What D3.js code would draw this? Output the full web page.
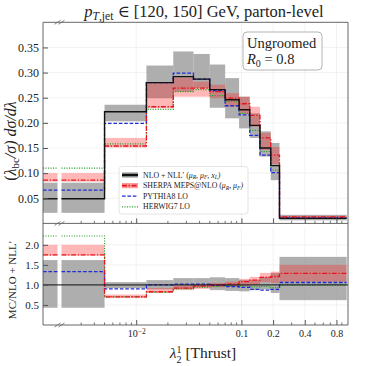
<!DOCTYPE html>
<html>
<head>
<meta charset="utf-8">
<script src="https://d3js.org/d3.v7.min.js"></script>
<style>
body { margin: 0; background: #fff; }
text { font-family: "Liberation Serif", "DejaVu Serif", serif; fill: #222; }
</style>
</head>
<body>
<svg width="366" height="366"></svg>
<script>
// bin edges in lambda_2^1 (first bin starts at 0 and sits behind the axis break)
var edges = [0, 0.005, 0.0125, 0.0225, 0.035, 0.05, 0.07, 0.095, 0.12, 0.15, 0.19, 0.23, 1.0];

// top panel, (lambda/sigma) dsigma/dlambda
var nll     = [0.049, 0.222, 0.280, 0.292, 0.287, 0.266, 0.246, 0.226, 0.195, 0.150, 0.115, 0.010];
var nllLo   = [0.021, 0.203, 0.249, 0.262, 0.269, 0.230, 0.209, 0.189, 0.170, 0.133, 0.086, 0.006];
var nllHi   = [0.081, 0.236, 0.314, 0.342, 0.337, 0.316, 0.289, 0.252, 0.219, 0.183, 0.160, 0.017];
var sherpa   = [0.086, 0.154, 0.232, 0.269, 0.269, 0.262, 0.249, 0.238, 0.215, 0.170, 0.136, 0.013];
var sherpaLo = [0.083, 0.151, 0.229, 0.252, 0.252, 0.249, 0.232, 0.218, 0.192, 0.146, 0.118, 0.011];
var sherpaHi = [0.100, 0.170, 0.280, 0.290, 0.282, 0.276, 0.259, 0.252, 0.232, 0.180, 0.152, 0.015];
var pythia  = [0.066, 0.199, 0.280, 0.299, 0.287, 0.264, 0.234, 0.216, 0.175, 0.136, 0.101, 0.011];
var herwig  = [0.110, 0.158, 0.227, 0.262, 0.266, 0.254, 0.242, 0.219, 0.185, 0.143, 0.106, 0.010];

// bottom panel, MC / NLO+NLL'
var rNllLo    = [0.43, 0.92, 0.89, 0.90, 0.94, 0.87, 0.85, 0.84, 0.87, 0.89, 0.80, 0.62];
var rNllHi    = [1.62, 1.07, 1.12, 1.17, 1.17, 1.19, 1.17, 1.12, 1.12, 1.20, 1.30, 1.70];
var rSherpa   = [1.75, 0.70, 0.83, 0.92, 0.97, 1.00, 1.02, 1.08, 1.12, 1.19, 1.21, 1.29];
var rSherpaLo = [1.73, 0.67, 0.80, 0.87, 0.90, 0.94, 0.95, 0.98, 1.00, 1.07, 1.05, 1.08];
var rSherpaHi = [2.00, 0.76, 0.92, 0.99, 1.02, 1.05, 1.08, 1.15, 1.20, 1.30, 1.33, 1.50];
var rPythia   = [1.33, 0.90, 1.00, 1.02, 1.02, 0.99, 0.96, 0.94, 0.89, 0.87, 0.89, 1.06];
var rHerwig   = [2.22, 0.71, 0.82, 0.90, 0.94, 0.96, 0.98, 0.97, 0.95, 0.96, 0.93, 1.00];

var xMajor = [0.01, 0.1, 0.2, 0.4, 0.8];
var xMinor = [0.003, 0.004, 0.005, 0.006, 0.007, 0.008, 0.009,
              0.02, 0.03, 0.04, 0.05, 0.06, 0.07, 0.08, 0.09,
              0.3, 0.5, 0.6, 0.7, 0.9];
var yTopTicks = [0.05, 0.10, 0.15, 0.20, 0.25, 0.30, 0.35];
var yBotTicks = [0.5, 1.0, 1.5, 2.0];

var svg = d3.select("svg");
var L = 43, R = 348;
var x = d3.scaleLog().domain([0.0013, 1.03]).range([L, R]);
var yT = d3.scaleLinear().domain([0, 0.4]).range([223.4, 22.3]);
var yB = d3.scaleLinear().domain([0, 2.42]).range([325, 228]);
var xMin = x.domain()[0], xMax = x.domain()[1];
var brk = 59.5;            // pixel of the axis break
var bL = x.invert(brk - 2), bR = x.invert(brk + 2);

var RED = "#e8141c", BLUE = "#1f2bd6", GREEN = "#2ca02c";

function cl(v) { return Math.min(Math.max(v, xMin), xMax); }

// grid
function grid(y, ticks, y0, y1) {
  svg.append("g").selectAll("line").data(ticks).enter().append("line")
    .attr("x1", L).attr("x2", R).attr("y1", d => y(d)).attr("y2", d => y(d))
    .attr("stroke", "#ececec").attr("stroke-width", 0.7);
  svg.append("g").selectAll("line").data(xMajor).enter().append("line")
    .attr("x1", d => x(d)).attr("x2", d => x(d)).attr("y1", y0).attr("y2", y1)
    .attr("stroke", "#ececec").attr("stroke-width", 0.7);
}
grid(yT, yTopTicks, 22.3, 223.4);
grid(yB, yBotTicks, 228, 325);

// bands: one rect per bin, first bin split at the break
function band(y, lo, hi, fill, op) {
  var rects = [];
  lo.forEach(function(v, i) {
    if (i === 0) {
      rects.push({a: xMin, b: bL, lo: v, hi: hi[i]});
      rects.push({a: bR, b: edges[1], lo: v, hi: hi[i]});
    } else {
      rects.push({a: edges[i], b: cl(edges[i + 1]), lo: v, hi: hi[i]});
    }
  });
  svg.append("g").selectAll("rect").data(rects).enter().append("rect")
    .attr("x", d => x(d.a)).attr("width", d => x(d.b) - x(d.a))
    .attr("y", d => y(d.hi)).attr("height", d => y(d.lo) - y(d.hi))
    .attr("fill", fill).attr("fill-opacity", op);
}

// step line, first bin split at the break
function step(y, vals, color, w, dash) {
  var g = svg.append("g").attr("fill", "none").attr("stroke", color)
    .attr("stroke-width", w).attr("stroke-dasharray", dash);
  var pts = [[bR, vals[0]]];
  for (var i = 1; i < vals.length; i++) pts.push([edges[i], vals[i]]);
  pts.push([cl(edges[edges.length - 1]), vals[vals.length - 1]]);
  var line = d3.line().x(d => x(d[0])).y(d => y(d[1])).curve(d3.curveStepAfter);
  g.append("path").attr("d", line([[xMin, vals[0]], [bL, vals[0]]]));
  g.append("path").attr("d", line(pts));
}

var dashSherpa = "5,1.6,1.4,1.6", dashPythia = "3.6,1.8", dashHerwig = "1.1,1.4";

band(yT, nllLo, nllHi, "#9a9a9a", 0.8);
band(yT, sherpaLo, sherpaHi, "#ff2020", 0.32);
step(yT, herwig, GREEN, 1.2, dashHerwig);
step(yT, pythia, BLUE, 1.3, dashPythia);
step(yT, sherpa, RED, 1.3, dashSherpa);
step(yT, nll, "#111", 1.4, null);

band(yB, rNllLo, rNllHi, "#9a9a9a", 0.8);
band(yB, rSherpaLo, rSherpaHi, "#ff2020", 0.32);
step(yB, rHerwig, GREEN, 1.2, dashHerwig);
step(yB, rPythia, BLUE, 1.3, dashPythia);
step(yB, rSherpa, RED, 1.3, dashSherpa);
svg.append("line").attr("x1", L).attr("x2", R).attr("y1", yB(1)).attr("y2", yB(1))
  .attr("stroke", "#111").attr("stroke-width", 1);

// frames
var fr = svg.append("g").attr("stroke", "#555").attr("stroke-width", 0.9).attr("fill", "none");
fr.append("path").attr("d", "M" + L + "," + yB(0) + "V" + yT(0.4) + "H" + R + "V" + yB(0) + "H" + L);
fr.append("line").attr("x1", L).attr("x2", R).attr("y1", yT(0)).attr("y2", yT(0));

// axes, ticks point inward
function yAxis(y, ticks, fs) {
  var g = svg.append("g").attr("transform", "translate(" + L + ",0)")
    .call(d3.axisLeft(y).tickValues(ticks).tickSize(-5).tickPadding(4).tickFormat(d3.format(".2~f")));
  g.select(".domain").remove();
  g.selectAll("text").style("font-family", null).attr("font-size", fs).text(d => ticks.length > 4 ? d.toFixed(2) : d.toFixed(1));
  g.selectAll("line").attr("stroke", "#555");
}
yAxis(yT, yTopTicks, 12);
yAxis(yB, yBotTicks, 11);

function xAxis(yPix, labels) {
  var g = svg.append("g").attr("transform", "translate(0," + yPix + ")")
    .call(d3.axisBottom(x).tickValues(xMajor).tickSize(-5).tickPadding(5).tickFormat(d => d));
  g.select(".domain").remove();
  g.selectAll("line").attr("stroke", "#555");
  g.selectAll("text").style("font-family", null).attr("font-size", 10).attr("fill", "#333");
  if (!labels) g.selectAll("text").remove();
  else g.selectAll("text").filter(d => d === 0.01).text("10").append("tspan")
      .attr("dy", "-0.45em").attr("font-size", 7.5).text("\u22122");
  svg.append("g").selectAll("line").data(xMinor).enter().append("line")
    .attr("x1", d => x(d)).attr("x2", d => x(d)).attr("y1", yPix).attr("y2", yPix - 2.6)
    .attr("stroke", "#555").attr("stroke-width", 0.8);
}
xAxis(yT(0), false);
xAxis(yB(0), true);

// break marks
[yT(0.4), yT(0), yB(0)].forEach(function(yy) {
  [-2, 2].forEach(function(d) {
    svg.append("line").attr("x1", brk + d - 3).attr("x2", brk + d + 3)
      .attr("y1", yy + 2).attr("y2", yy - 2).attr("stroke", "#666").attr("stroke-width", 0.8);
  });
});

// legend
var lg = svg.append("g");
lg.append("rect").attr("x", 119).attr("y", 166.5).attr("width", 129).attr("height", 47.5)
  .attr("rx", 3).attr("fill", "#fff").attr("fill-opacity", 0.85).attr("stroke", "#ddd").attr("stroke-width", 0.8);
var items = [
  {c: "#111", w: 2.2, dash: null, band: "#9a9a9a", t: ["NLO + NLL\u2032 (", "\u03bc", "R", ", \u03bc", "F", ", x", "L", ")"]},
  {c: RED, w: 1.6, dash: dashSherpa, band: "#ff9a9a", t: ["SHERPA MEPS@NLO (", "\u03bc", "R", ", \u03bc", "F", ")"]},
  {c: BLUE, w: 1.3, dash: dashPythia, band: null, t: ["PYTHIA8 LO"]},
  {c: GREEN, w: 1.2, dash: dashHerwig, band: null, t: ["HERWIG7 LO"]}
];
items.forEach(function(it, i) {
  var yy = 175 + i * 10.6;
  if (it.band) lg.append("rect").attr("x", 122).attr("y", yy - 2.6).attr("width", 16).attr("height", 5.2).attr("fill", it.band);
  lg.append("line").attr("x1", 122).attr("x2", 138).attr("y1", yy).attr("y2", yy)
    .attr("stroke", it.c).attr("stroke-width", it.w).attr("stroke-dasharray", it.dash);
  var t = lg.append("text").attr("x", 143).attr("y", yy + 2.5).attr("font-size", 7.8);
  it.t.forEach(function(s, k) {
    var sp = t.append("tspan").text(s);
    if (k > 0 && k % 2 === 0) sp.attr("font-size", 5.6).attr("dy", 1.4).attr("font-style", "italic");
    else if (k > 0) sp.attr("dy", k > 1 ? -1.4 : 0).attr("font-style", "italic");
  });
});

// Ungroomed box
svg.append("rect").attr("x", 243).attr("y", 32).attr("width", 79).attr("height", 38).attr("rx", 4)
  .attr("fill", "#fff").attr("stroke", "#aaa").attr("stroke-width", 0.9);
svg.append("text").attr("x", 247).attr("y", 48).attr("font-size", 14.5).text("Ungroomed");
var r0 = svg.append("text").attr("x", 247).attr("y", 64).attr("font-size", 14.5);
r0.append("tspan").attr("font-style", "italic").text("R");
r0.append("tspan").attr("font-size", 10).attr("dy", 3).text("0");
r0.append("tspan").attr("dy", -3).text(" = 0.8");

// title
var tt = svg.append("text").attr("x", 204).attr("y", 17).attr("text-anchor", "middle").attr("font-size", 16.5);
tt.append("tspan").attr("font-style", "italic").text("p");
tt.append("tspan").attr("font-size", 11.5).attr("dy", 3).attr("font-style", "italic").text("T");
tt.append("tspan").attr("font-size", 11.5).text(",jet");
tt.append("tspan").attr("dy", -3).text(" \u2208 [120, 150] GeV, parton-level");

// x label
var xl = svg.append("text").attr("x", 203).attr("y", 358).attr("text-anchor", "middle").attr("font-size", 15.5);
xl.append("tspan").attr("font-style", "italic").text("\u03bb");
xl.append("tspan").attr("font-size", 10).attr("dy", -5.5).text("1");
xl.append("tspan").attr("font-size", 10).attr("dx", -5).attr("dy", 10).text("2");
xl.append("tspan").attr("dy", -4.5).text(" [Thrust]");

// y labels
var yl = svg.append("text").attr("transform", "translate(16,141) rotate(-90)")
  .attr("text-anchor", "middle").attr("font-size", 16);
yl.append("tspan").text("(");
yl.append("tspan").attr("font-style", "italic").text("\u03bb");
yl.append("tspan").attr("font-size", 11).attr("dy", 3).text("bc");
yl.append("tspan").attr("dy", -3).attr("font-style", "italic").text("/\u03c3) d\u03c3/d\u03bb");

svg.append("text").attr("transform", "translate(16,280) rotate(-90)")
  .attr("text-anchor", "middle").attr("font-size", 11).text("MC/NLO + NLL\u2032");
</script>
</body>
</html>
